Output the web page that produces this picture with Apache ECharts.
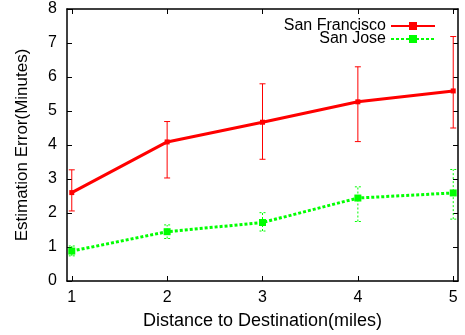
<!DOCTYPE html>
<html><head><meta charset="utf-8">
<script src="https://cdn.jsdelivr.net/npm/echarts@6/dist/echarts.min.js"></script>
<style>html,body{margin:0;padding:0;background:#fff}#c{width:465px;height:335px}</style>
</head><body><div id="c"></div>
<script>
const distances = [1, 2, 3, 4, 5];
const sfMean = [2.60, 4.09, 4.67, 5.27, 5.59];
const sfLow  = [2.06, 3.03, 3.58, 4.10, 4.50];
const sfHigh = [3.27, 4.69, 5.80, 6.30, 7.19];
const sjMean = [0.88, 1.45, 1.72, 2.44, 2.59];
const sjLow  = [0.74, 1.25, 1.47, 1.75, 1.82];
const sjHigh = [1.03, 1.65, 2.01, 2.77, 3.28];
const yTicks = [0, 1, 2, 3, 4, 5, 6, 7, 8];

const FONT = 'Liberation Sans, Arial, sans-serif';
const RED = '#ff0000', GREEN = '#00ff00';

function errData(low, high) { return distances.map((d, i) => [d, low[i], high[i]]); }
function errSeries(low, high, color, dashed) {
  return {
    type: 'custom', xAxisIndex: 0, yAxisIndex: 0, silent: true, z: 1,
    data: errData(low, high),
    renderItem: function (params, api) {
      const x = api.value(0);
      const lo = api.coord([x, api.value(1)]);
      const hi = api.coord([x, api.value(2)]);
      const cw = 3;
      const style = { stroke: color, lineWidth: 1, lineDash: dashed ? [2, 2] : null };
      return { type: 'group', children: [
        { type: 'line', shape: { x1: lo[0], y1: lo[1], x2: hi[0], y2: hi[1] }, style: style },
        { type: 'line', shape: { x1: lo[0] - cw, y1: lo[1], x2: lo[0] + cw, y2: lo[1] }, style: style },
        { type: 'line', shape: { x1: hi[0] - cw, y1: hi[1], x2: hi[0] + cw, y2: hi[1] }, style: style }
      ]};
    }
  };
}

const axisLineStyle = { show: true, onZero: false, lineStyle: { color: '#000', width: 1.5 } };
const tickStyle = { show: true, inside: true, length: 5, lineStyle: { color: '#000', width: 1 } };

const chart = echarts.init(document.getElementById('c'), null, { renderer: 'canvas' });
chart.setOption({
  animation: false,
  backgroundColor: '#fff',
  grid: { left: 67, right: 7, top: 9, bottom: 53, containLabel: false },
  legend: {
    orient: 'vertical', right: 24, top: 13, align: 'right',
    itemWidth: 44, itemHeight: 10, itemGap: -3,
    textStyle: { fontFamily: FONT, fontSize: 16, lineHeight: 16, color: '#000' },
    data: ['San Francisco', 'San Jose']
  },
  xAxis: [{
    type: 'value', position: 'bottom', min: 0.95, max: 5.05,
    axisLine: axisLineStyle, splitLine: { show: false },
    axisLabel: { fontFamily: FONT, fontSize: 16, color: '#000', margin: 9,
      customValues: distances },
    axisTick: Object.assign({}, tickStyle, { customValues: distances }),
    name: 'Distance to Destination(miles)', nameLocation: 'middle', nameGap: 31,
    nameTextStyle: { fontFamily: FONT, fontSize: 18, color: '#000' }
  }, {
    type: 'value', position: 'top', min: 0.95, max: 5.05,
    axisLine: axisLineStyle, axisLabel: { show: false }, splitLine: { show: false },
    axisTick: Object.assign({}, tickStyle, { customValues: distances })
  }],
  yAxis: [{
    type: 'value', position: 'left', min: 0, max: 8, interval: 1,
    axisLine: axisLineStyle, axisTick: tickStyle, splitLine: { show: false },
    axisLabel: { fontFamily: FONT, fontSize: 16, color: '#000', margin: 10 },
    name: 'Estimation Error(Minutes)', nameLocation: 'middle', nameGap: 36,
    nameTextStyle: { fontFamily: FONT, fontSize: 17, color: '#000' }
  }, {
    type: 'value', position: 'right', min: 0, max: 8, interval: 1,
    axisLine: axisLineStyle, axisTick: tickStyle, splitLine: { show: false },
    axisLabel: { show: false }
  }],
  series: [
    errSeries(sfLow, sfHigh, RED, false),
    errSeries(sjLow, sjHigh, GREEN, true),
    {
      name: 'San Francisco', type: 'line', z: 3,
      data: distances.map((d, i) => [d, sfMean[i]]),
      symbol: 'rect', symbolSize: 5, showAllSymbol: true,
      itemStyle: { color: RED },
      lineStyle: { color: RED, width: 3 }
    },
    {
      name: 'San Jose', type: 'line', z: 3,
      data: distances.map((d, i) => [d, sjMean[i]]),
      symbol: 'rect', symbolSize: 7, showAllSymbol: true,
      itemStyle: { color: GREEN },
      lineStyle: { color: GREEN, width: 3, type: [3, 2] }
    }
  ]
});
</script></body></html>
